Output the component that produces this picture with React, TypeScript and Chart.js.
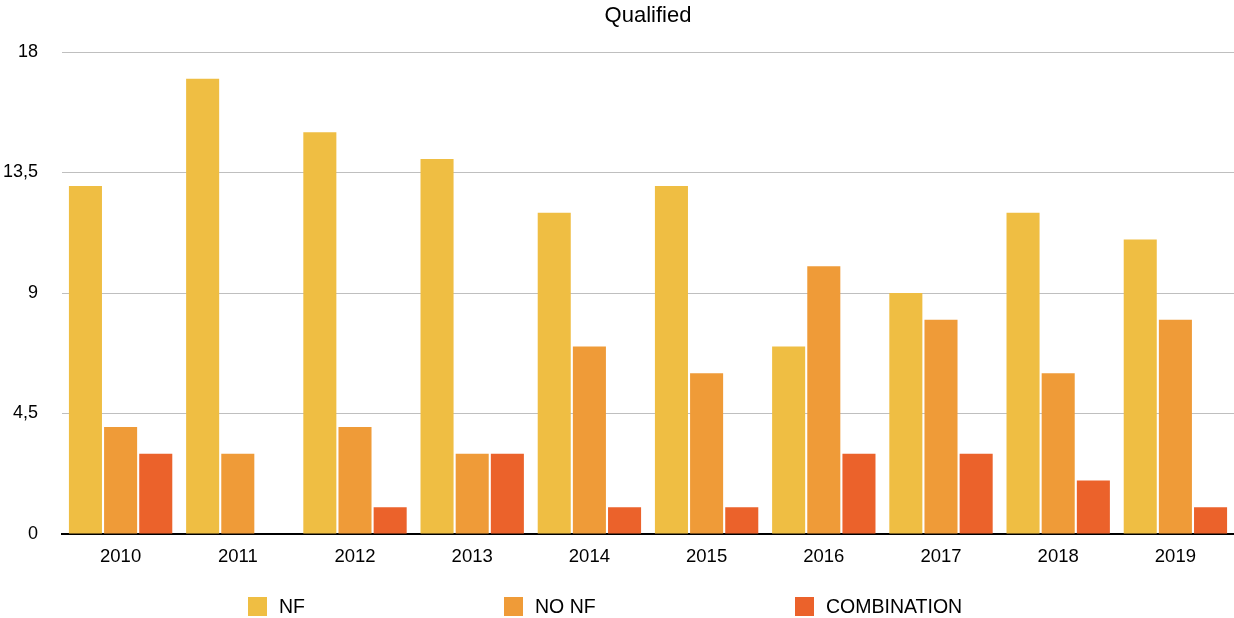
import React, { useEffect, useRef } from "react";
import { Chart, registerables } from "chart.js";

Chart.register(...registerables);

const categories = ["2010", "2011", "2012", "2013", "2014", "2015", "2016", "2017", "2018", "2019"];
const nfValues = [13, 17, 15, 14, 12, 13, 7, 9, 12, 11];
const noNfValues = [4, 3, 4, 3, 7, 6, 10, 8, 6, 8];
const combinationValues = [3, 0, 1, 3, 1, 1, 3, 3, 2, 1];
const seriesLabels = ["NF", "NO NF", "COMBINATION"];
const seriesColors = ["#EFBE43", "#EF9B38", "#EB622B"];
const yMin = 0;
const yMax = 18;
const yStep = 4.5;
const titleText = "Qualified";

const FONT = "'Liberation Sans', Arial, Helvetica, sans-serif";

const titlePlugin = {
  id: "areaTitle",
  afterDraw(chart: any) {
    const ctx = chart.ctx;
    const area = chart.chartArea;
    ctx.save();
    ctx.font = `22px ${FONT}`;
    ctx.fillStyle = "#000";
    ctx.textAlign = "center";
    ctx.textBaseline = "middle";
    ctx.fillText(titleText, (area.left + area.right) / 2, 16);
    ctx.restore();
  },
};

const legendPlugin = {
  id: "customLegend",
  afterDraw(chart: any) {
    const ctx = chart.ctx;
    const starts = [248, 504, 795];
    const y = 597;
    const size = 19;
    ctx.save();
    ctx.font = `19.5px ${FONT}`;
    ctx.textBaseline = "middle";
    ctx.textAlign = "left";
    chart.data.datasets.forEach((ds: any, i: number) => {
      const x = starts[i];
      ctx.fillStyle = ds.backgroundColor;
      ctx.fillRect(x, y, size, size);
      ctx.fillStyle = "#000";
      ctx.fillText(ds.label, x + 31, y + size / 2 + 1);
    });
    ctx.restore();
  },
};

export default function App() {
  const ref = useRef<HTMLCanvasElement | null>(null);

  useEffect(() => {
    document.body.style.margin = "0";
    const canvas = ref.current;
    if (!canvas) return;
    const values = [nfValues, noNfValues, combinationValues];
    const chart = new Chart(canvas, {
      type: "bar",
      data: {
        labels: categories,
        datasets: values.map((v, i) => ({
          label: seriesLabels[i],
          data: v,
          backgroundColor: seriesColors[i],
          borderWidth: 0,
          categoryPercentage: 0.9,
          barPercentage: 0.94,
        })),
      },
      options: {
        responsive: false,
        animation: false,
        devicePixelRatio: 1,
        layout: { padding: { top: 52, bottom: 44, left: 0, right: 0 } },
        plugins: {
          legend: { display: false },
          tooltip: { enabled: false },
          title: { display: false },
        },
        scales: {
          x: {
            grid: { display: false, drawTicks: false },
            border: { display: true, color: "#000", width: 2 },
            ticks: {
              color: "#000",
              font: { family: FONT, size: 18.5 },
              padding: 12,
              maxRotation: 0,
            },
            afterFit(scale: any) {
              scale.height = 40;
            },
          },
          y: {
            min: yMin,
            max: yMax,
            grid: { color: "#BFBFBF", lineWidth: 1, drawTicks: false },
            border: { display: false },
            ticks: {
              stepSize: yStep,
              color: "#000",
              font: { family: FONT, size: 18 },
              padding: 24,
              callback: (v: any) => String(v).replace(".", ","),
            },
            afterFit(scale: any) {
              scale.width = 62;
            },
          },
        },
      },
      plugins: [titlePlugin, legendPlugin],
    });
    return () => chart.destroy();
  }, []);

  return (
    <div style={{ width: 1234, height: 618 }}>
      <canvas ref={ref} width={1234} height={618} style={{ display: "block" }} />
    </div>
  );
}
